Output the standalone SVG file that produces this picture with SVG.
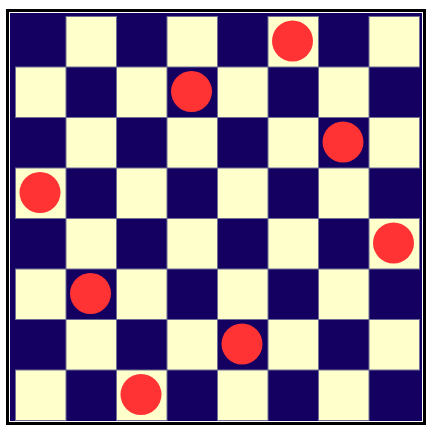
<svg xmlns="http://www.w3.org/2000/svg" width="431" height="430" viewBox="0 0 431 430">
<style>
.d{fill:#140060}
.l{fill:#FFFFCC;stroke:#6E6E96;stroke-width:1}
.q{fill:#FF3333}
</style>
<rect x="0" y="0" width="431" height="430" fill="#FFFFFF"/>
<rect x="7.5" y="10.5" width="417" height="413" fill="#FFFFFF" stroke="#000000" stroke-width="3"/>
<rect x="10" y="13" width="412" height="408" class="d"/>
<g id="board">
<rect class="l" x="66" y="16.5" width="50.5" height="50.5"/>
<rect class="l" x="167" y="16.5" width="50.5" height="50.5"/>
<rect class="l" x="268" y="16.5" width="50.5" height="50.5"/>
<rect class="l" x="369" y="16.5" width="50.5" height="50.5"/>
<rect class="l" x="15.5" y="67" width="50.5" height="50.5"/>
<rect class="l" x="116.5" y="67" width="50.5" height="50.5"/>
<rect class="l" x="217.5" y="67" width="50.5" height="50.5"/>
<rect class="l" x="318.5" y="67" width="50.5" height="50.5"/>
<rect class="l" x="66" y="117.5" width="50.5" height="50.5"/>
<rect class="l" x="167" y="117.5" width="50.5" height="50.5"/>
<rect class="l" x="268" y="117.5" width="50.5" height="50.5"/>
<rect class="l" x="369" y="117.5" width="50.5" height="50.5"/>
<rect class="l" x="15.5" y="168" width="50.5" height="50.5"/>
<rect class="l" x="116.5" y="168" width="50.5" height="50.5"/>
<rect class="l" x="217.5" y="168" width="50.5" height="50.5"/>
<rect class="l" x="318.5" y="168" width="50.5" height="50.5"/>
<rect class="l" x="66" y="218.5" width="50.5" height="50.5"/>
<rect class="l" x="167" y="218.5" width="50.5" height="50.5"/>
<rect class="l" x="268" y="218.5" width="50.5" height="50.5"/>
<rect class="l" x="369" y="218.5" width="50.5" height="50.5"/>
<rect class="l" x="15.5" y="269" width="50.5" height="50.5"/>
<rect class="l" x="116.5" y="269" width="50.5" height="50.5"/>
<rect class="l" x="217.5" y="269" width="50.5" height="50.5"/>
<rect class="l" x="318.5" y="269" width="50.5" height="50.5"/>
<rect class="l" x="66" y="319.5" width="50.5" height="50.5"/>
<rect class="l" x="167" y="319.5" width="50.5" height="50.5"/>
<rect class="l" x="268" y="319.5" width="50.5" height="50.5"/>
<rect class="l" x="369" y="319.5" width="50.5" height="50.5"/>
<rect class="l" x="15.5" y="370" width="50.5" height="50.5"/>
<rect class="l" x="116.5" y="370" width="50.5" height="50.5"/>
<rect class="l" x="217.5" y="370" width="50.5" height="50.5"/>
<rect class="l" x="318.5" y="370" width="50.5" height="50.5"/>
</g>
<g id="queens">
<circle id="q0" class="q" cx="292.5" cy="41" r="20.5"/>
<circle id="q1" class="q" cx="191.5" cy="91.5" r="20.5"/>
<circle id="q2" class="q" cx="343" cy="142" r="20.5"/>
<circle id="q3" class="q" cx="40" cy="192.5" r="20.5"/>
<circle id="q4" class="q" cx="393.5" cy="243" r="20.5"/>
<circle id="q5" class="q" cx="90.5" cy="293.5" r="20.5"/>
<circle id="q6" class="q" cx="242" cy="344" r="20.5"/>
<circle id="q7" class="q" cx="141" cy="394.5" r="20.5"/>
</g>
</svg>
